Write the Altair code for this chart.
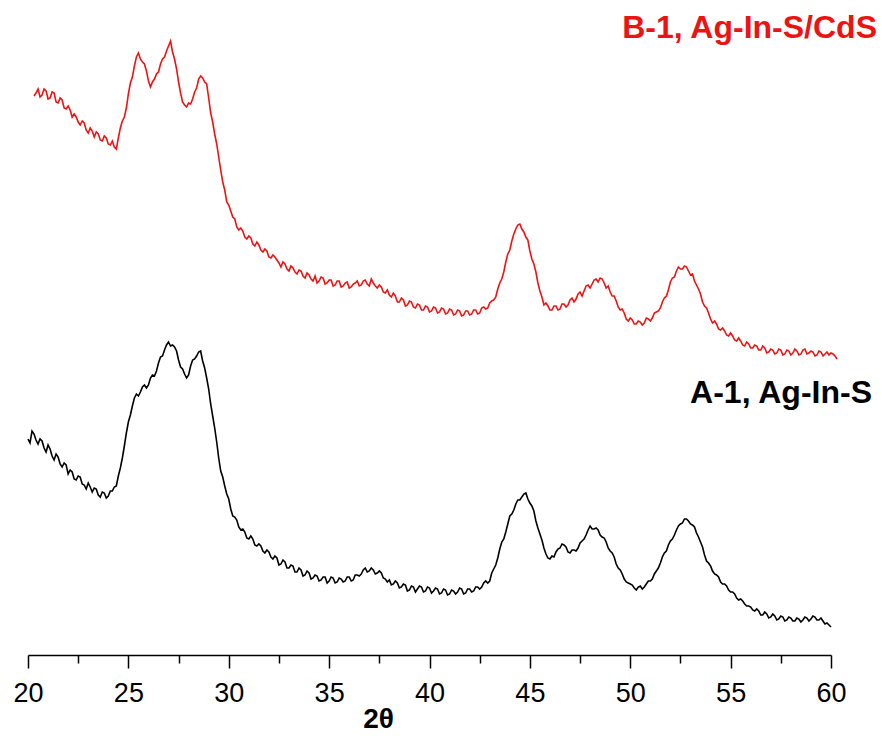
import altair as alt
import pandas as pd

# --- XRD patterns (2-theta scans, arbitrary intensity units) ---------------
# B-1 (Ag-In-S/CdS): sampled every 0.1 deg from 20.3 deg
b1_start = 20.3
b1_step = 0.1
b1_counts = [
    559, 562, 566, 558, 560, 566, 564, 556, 557, 563, 562, 553, 552, 557, 555, 547, 546, 549, 545, 538,
    541, 538, 533, 530, 534, 532, 525, 522, 527, 524, 518, 523, 521, 515, 514, 519, 517, 511, 510, 514,
    508, 506, 517, 527, 534, 538, 547, 561, 572, 578, 589, 598, 602, 596, 593, 591, 584, 574, 568, 573,
    576, 581, 583, 591, 596, 598, 604, 609, 614, 603, 596, 586, 573, 562, 553, 550, 548, 552, 551, 556,
    563, 567, 576, 579, 577, 573, 571, 557, 542, 533, 521, 511, 498, 485, 473, 465, 453, 450, 444, 438,
    436, 428, 425, 427, 424, 418, 416, 419, 417, 411, 409, 413, 410, 405, 403, 406, 404, 398, 397, 400,
    398, 395, 392, 388, 393, 391, 386, 384, 389, 387, 383, 381, 385, 384, 379, 377, 382, 380, 376, 374,
    379, 372, 374, 378, 377, 371, 372, 375, 375, 369, 370, 374, 374, 368, 369, 372, 373, 367, 368, 371,
    372, 374, 369, 370, 374, 375, 371, 369, 376, 372, 369, 367, 370, 368, 363, 362, 365, 360, 358, 362,
    359, 353, 353, 357, 355, 349, 350, 354, 353, 348, 347, 351, 350, 345, 345, 349, 348, 343, 344, 348,
    347, 342, 343, 347, 346, 341, 342, 346, 345, 340, 341, 345, 344, 339, 340, 344, 344, 340, 341, 345,
    345, 341, 342, 347, 348, 346, 347, 352, 354, 355, 358, 366, 372, 376, 383, 393, 401, 405, 414, 421,
    426, 430, 431, 426, 423, 418, 415, 404, 396, 391, 383, 372, 364, 358, 350, 352, 349, 345, 345, 349,
    349, 345, 346, 351, 351, 348, 350, 355, 357, 353, 356, 361, 363, 359, 364, 369, 370, 367, 371, 375,
    376, 373, 377, 376, 372, 367, 369, 363, 359, 359, 354, 348, 345, 346, 342, 336, 334, 337, 335, 331,
    331, 334, 333, 330, 332, 337, 336, 334, 337, 342, 343, 344, 347, 353, 357, 359, 365, 373, 377, 378,
    384, 388, 386, 386, 389, 388, 384, 380, 381, 374, 370, 366, 361, 353, 349, 347, 342, 336, 332, 334,
    331, 326, 325, 327, 324, 320, 319, 322, 319, 315, 314, 317, 314, 310, 309, 313, 311, 307, 307, 310,
    309, 305, 305, 309, 307, 302, 303, 306, 305, 301, 302, 306, 305, 300, 301, 305, 304, 300, 302, 306,
    304, 300, 301, 305, 306, 301, 302, 304, 303, 299, 300, 304, 303, 299, 301, 303, 300, 302, 301, 299,
    296,
]

# A-1 (Ag-In-S): sampled every 0.1 deg from 20.0 deg
a1_start = 20.0
a1_step = 0.1
a1_counts = [
    216, 212, 224, 221, 215, 211, 216, 214, 207, 203, 210, 206, 199, 195, 201, 198, 191, 188, 192, 190,
    181, 185, 183, 176, 175, 179, 178, 171, 170, 166, 172, 168, 163, 167, 166, 160, 158, 163, 162, 157,
    159, 164, 164, 168, 169, 179, 187, 197, 209, 222, 233, 240, 249, 257, 261, 259, 263, 268, 270, 267,
    270, 277, 280, 279, 284, 292, 298, 299, 305, 310, 313, 309, 310, 308, 304, 295, 288, 286, 281, 277,
    280, 289, 295, 296, 299, 303, 304, 294, 287, 277, 266, 251, 239, 227, 213, 197, 184, 178, 169, 161,
    156, 146, 139, 138, 135, 128, 125, 126, 123, 117, 116, 119, 116, 110, 109, 111, 109, 104, 102, 105,
    103, 98, 96, 99, 97, 90, 91, 95, 93, 87, 87, 90, 89, 83, 83, 87, 85, 79, 80, 84,
    82, 76, 77, 80, 79, 74, 75, 78, 78, 72, 74, 78, 77, 72, 73, 77, 76, 73, 74, 78,
    78, 74, 75, 80, 80, 79, 81, 85, 87, 83, 84, 87, 85, 81, 82, 84, 82, 77, 76, 73,
    75, 70, 71, 74, 72, 67, 68, 71, 70, 64, 65, 69, 68, 63, 66, 69, 68, 63, 64, 68,
    67, 62, 64, 67, 66, 61, 62, 66, 65, 60, 61, 65, 64, 61, 63, 67, 66, 61, 62, 66,
    66, 63, 64, 68, 68, 66, 68, 72, 74, 72, 74, 82, 86, 90, 97, 106, 113, 116, 123, 131,
    139, 141, 145, 151, 155, 155, 158, 161, 162, 156, 152, 149, 144, 134, 127, 121, 115, 107, 101, 97,
    96, 99, 98, 103, 106, 107, 111, 110, 108, 103, 102, 105, 105, 104, 107, 112, 114, 116, 120, 125,
    129, 126, 126, 127, 125, 120, 118, 117, 113, 107, 104, 102, 98, 91, 87, 85, 81, 76, 73, 72,
    71, 70, 67, 65, 68, 69, 66, 68, 71, 74, 74, 76, 81, 84, 87, 92, 98, 102, 104, 110,
    114, 116, 120, 125, 129, 131, 132, 136, 136, 134, 131, 130, 128, 122, 118, 113, 108, 100, 94, 92,
    89, 84, 81, 80, 78, 73, 71, 71, 69, 65, 63, 63, 61, 57, 55, 56, 54, 51, 49, 49,
    48, 45, 44, 46, 44, 40, 40, 43, 41, 37, 38, 41, 39, 35, 36, 39, 38, 34, 35, 38,
    37, 34, 34, 37, 36, 33, 35, 38, 37, 34, 36, 39, 38, 35, 35, 37, 34, 31, 32, 30,
    28,
]

x_ticks = [20, 22.5, 25, 27.5, 30, 32.5, 35, 37.5, 40, 42.5,
           45, 47.5, 50, 52.5, 55, 57.5, 60]

series_names = ["B-1, Ag-In-S/CdS", "A-1, Ag-In-S"]
series_colors = ["#ec1313", "#000000"]


def scan_frame(name, start, step, counts):
    return pd.DataFrame({
        "two_theta": [round(start + i * step, 3) for i in range(len(counts))],
        "counts": counts,
        "sample": name,
        "order": range(len(counts)),
    })


data = pd.concat([
    scan_frame(series_names[0], b1_start, b1_step, b1_counts),
    scan_frame(series_names[1], a1_start, a1_step, a1_counts),
], ignore_index=True)

W, H = 803, 645

x_axis = alt.Axis(
    values=x_ticks,
    labelExpr="datum.value % 5 === 0 ? datum.label : ''",
    grid=False,
    domainColor="black",
    domainWidth=1.5,
    tickColor="black",
    tickWidth=1.5,
    tickSize={"condition": {"test": "datum.value % 5 !== 0", "value": 8}, "value": 13},
    labelFont="Liberation Sans",
    labelFontSize=27,
    labelColor="black",
    labelPadding=12,
    labelFlush=False,
    labelOverlap=False,
    title="2θ",
    titleFont="Liberation Sans",
    titleFontSize=28,
    titleFontWeight="bold",
    titleColor="black",
    titleAlign="center",
    titleBaseline="alphabetic",
    titleAnchor="start",
    titleX=350,
    titleY=72,
)

lines = alt.Chart(data).mark_line(strokeWidth=1.6, clip=False).encode(
    x=alt.X("two_theta:Q", scale=alt.Scale(domain=[20, 60], nice=False, zero=False), axis=x_axis),
    y=alt.Y("counts:Q", scale=alt.Scale(domain=[0, 645], nice=False), axis=None),
    color=alt.Color("sample:N", scale=alt.Scale(domain=series_names, range=series_colors), legend=None),
    order="order:Q",
    detail="sample:N",
)

label_b1 = alt.Chart(pd.DataFrame({"t": [series_names[0]]})).mark_text(
    align="right", baseline="alphabetic", font="Liberation Sans", fontSize=32,
    fontWeight="bold", color="#ec1313",
).encode(text="t:N", x=alt.value(849), y=alt.value(28))

label_a1 = alt.Chart(pd.DataFrame({"t": [series_names[1]]})).mark_text(
    align="right", baseline="alphabetic", font="Liberation Sans", fontSize=32,
    fontWeight="bold", color="black",
).encode(text="t:N", x=alt.value(844), y=alt.value(393))

chart = alt.layer(lines, label_b1, label_a1).properties(
    width=W,
    height=H,
    padding={"left": 28, "top": 10, "right": 51, "bottom": 81},
    autosize=alt.AutoSizeParams(type="none"),
    background="white",
).configure_view(stroke=None)

chart.save("out.html", embed_options={"renderer": "svg", "actions": False})
